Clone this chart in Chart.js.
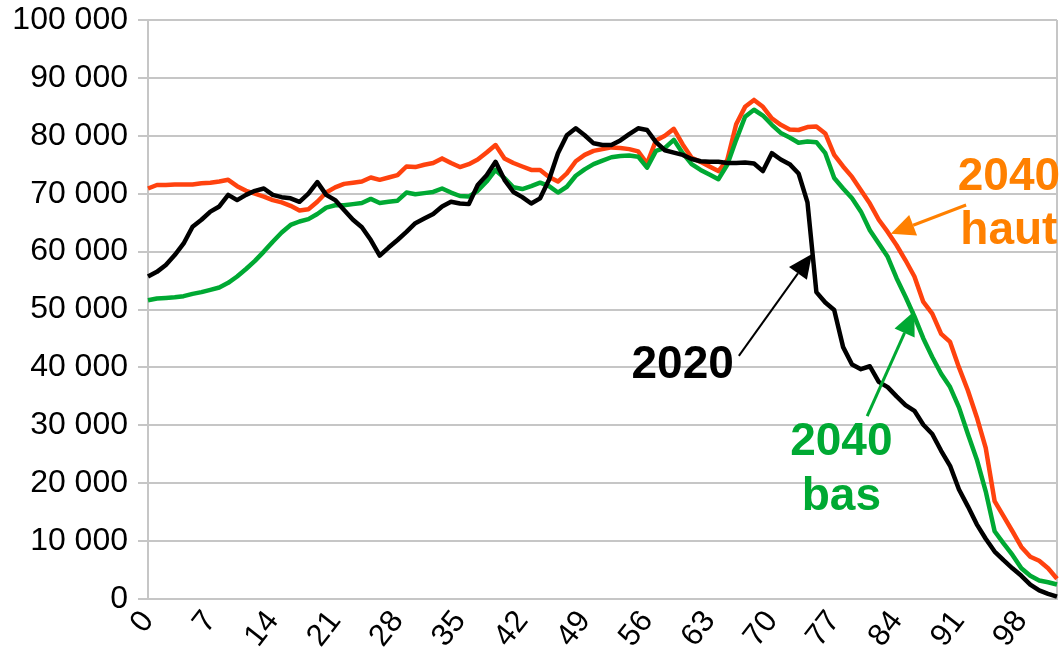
<!DOCTYPE html>
<html>
<head>
<meta charset="utf-8">
<script src="https://cdn.jsdelivr.net/npm/chart.js"></script>
<style>
  body { margin: 0; background: #fff; }
  #wrap { width: 1060px; height: 662px; }
</style>
</head>
<body>
<div id="wrap"><canvas id="chart" width="1060" height="662"></canvas></div>
<script>
// Ages (categories)
const ages = [
  0, 1, 2, 3, 4, 5, 6, 7, 8, 9, 10, 11, 12, 13, 14, 15, 16, 17, 18, 19,
  20, 21, 22, 23, 24, 25, 26, 27, 28, 29, 30, 31, 32, 33, 34, 35, 36, 37, 38, 39,
  40, 41, 42, 43, 44, 45, 46, 47, 48, 49, 50, 51, 52, 53, 54, 55, 56, 57, 58, 59,
  60, 61, 62, 63, 64, 65, 66, 67, 68, 69, 70, 71, 72, 73, 74, 75, 76, 77, 78, 79,
  80, 81, 82, 83, 84, 85, 86, 87, 88, 89, 90, 91, 92, 93, 94, 95, 96, 97, 98, 99,
  100, 101, 102
];

// Population by age
const pop2020 = [
  55700, 56500, 57700, 59400, 61400, 64300, 65500, 66900, 67800, 69800,
  68900, 69800, 70500, 70900, 69800, 69400, 69200, 68600, 70000, 72000,
  69800, 68900, 67200, 65500, 64200, 62000, 59300, 60700, 62000, 63400,
  64900, 65700, 66500, 67800, 68600, 68300, 68200, 71500, 73200, 75500,
  72400, 70300, 69400, 68300, 69200, 72400, 77000, 80100, 81300, 80100,
  78700, 78400, 78400, 79200, 80300, 81300, 81000, 78900, 77500, 77100,
  76700, 76000, 75600, 75500, 75500, 75300, 75300, 75400, 75200, 73900,
  77000, 75900, 75100, 73500, 68500, 53000, 51200, 49900, 43500, 40500,
  39700, 40200, 37500, 36600, 35000, 33500, 32500, 30100, 28500, 25600,
  23000, 18900, 16000, 12900, 10400, 8200, 6700, 5300, 4000, 2500,
  1500, 900, 400
];

const pop2040Bas = [
  51600, 51900, 52000, 52100, 52300, 52700, 53000, 53400, 53800, 54600,
  55700, 57000, 58400, 60000, 61700, 63300, 64600, 65200, 65600, 66500,
  67600, 68000, 68000, 68200, 68400, 69100, 68400, 68600, 68800, 70200,
  69900, 70100, 70300, 70900, 70200, 69600, 69500, 70500, 72100, 74100,
  72700, 71100, 70800, 71300, 71900, 71300, 70200, 71200, 73100, 74200,
  75100, 75700, 76300, 76500, 76600, 76400, 74500, 77400, 77900, 79300,
  77000, 75100, 74100, 73300, 72500, 75000, 79300, 83300, 84500, 83500,
  81900, 80500, 79700, 78800, 79000, 78900, 77000, 72700, 70900, 69200,
  66900, 63700, 61400, 59100, 55400, 52200, 48800, 45000, 41800, 38900,
  36600, 33100, 28500, 24100, 18600, 11700, 9600, 7600, 5300, 4000,
  3200, 2900, 2500
];

const pop2040Haut = [
  70900, 71500, 71500, 71600, 71600, 71600, 71800, 71900, 72100, 72400,
  71300, 70500, 70000, 69500, 68900, 68500, 67900, 67100, 67300, 68600,
  70200, 71100, 71700, 71900, 72100, 72800, 72400, 72800, 73200, 74700,
  74600, 75000, 75300, 76100, 75300, 74600, 75100, 75900, 77100, 78400,
  76100, 75300, 74700, 74100, 74100, 72900, 72100, 73500, 75600, 76700,
  77400, 77700, 78000, 77900, 77700, 77300, 75200, 79200, 80000, 81200,
  78500, 76200, 75500, 74700, 73900, 75800, 82000, 85000, 86200, 85000,
  83000, 81900, 81100, 81000, 81500, 81600, 80400, 76700, 74700, 72900,
  70600, 68300, 65500, 63400, 61100, 58500, 55700, 51300, 49300, 45800,
  44400, 40000, 36000, 31400, 26100, 16900, 14300, 11700, 9000, 7300,
  6600, 5300, 3500
];

// Y tick values
const yTicks = [0, 10000, 20000, 30000, 40000, 50000, 60000, 70000, 80000, 90000, 100000];

const FONT = "'Liberation Sans', Arial, sans-serif";
const GRID = '#c6c6c6';

function fmt(v) {
  return String(v).replace(/\B(?=(\d{3})+(?!\d))/g, ' ');
}

// Callouts: text anchored in data coordinates (age, value), arrow from -> to
const callouts = [
  { lines: ['2020'], color: '#000000', at: [60.0, 38200], lineGap: 0,
    from: [66.3, 42000], to: [74.5, 59600], arrowColor: '#000000', arrowWidth: 2 },
  { lines: ['2040', 'haut'], color: '#ff8000', at: [96.6, 70640], lineGap: 54,
    from: [91.8, 68050], to: [83.34, 63070], arrowColor: '#ff8000', arrowWidth: 3 },
  { lines: ['2040', 'bas'], color: '#00a933', at: [77.8, 24870], lineGap: 55,
    from: [80.7, 31600], to: [86.0, 49740], arrowColor: '#00a933', arrowWidth: 3 }
];

function drawArrow(ctx, x1, y1, x2, y2, color, width) {
  const ang = Math.atan2(y2 - y1, x2 - x1);
  const headLen = 24, headHalf = 11;
  const bx = x2 - headLen * Math.cos(ang), by = y2 - headLen * Math.sin(ang);
  ctx.save();
  ctx.strokeStyle = color;
  ctx.fillStyle = color;
  ctx.lineWidth = width;
  ctx.beginPath();
  ctx.moveTo(x1, y1);
  ctx.lineTo(bx, by);
  ctx.stroke();
  ctx.beginPath();
  ctx.moveTo(x2, y2);
  ctx.lineTo(bx + headHalf * Math.sin(ang), by - headHalf * Math.cos(ang));
  ctx.lineTo(bx - headHalf * Math.sin(ang), by + headHalf * Math.cos(ang));
  ctx.closePath();
  ctx.fill();
  ctx.restore();
}

const calloutPlugin = {
  id: 'callouts',
  afterDatasetsDraw(chart) {
    const { ctx, scales: { x, y } } = chart;
    callouts.forEach(c => {
      drawArrow(ctx,
        x.getPixelForValue(c.from[0]), y.getPixelForValue(c.from[1]),
        x.getPixelForValue(c.to[0]), y.getPixelForValue(c.to[1]),
        c.arrowColor, c.arrowWidth);
      ctx.save();
      ctx.fillStyle = c.color;
      ctx.font = 'bold 46px ' + FONT;
      ctx.textAlign = 'center';
      ctx.textBaseline = 'alphabetic';
      const tx = x.getPixelForValue(c.at[0]);
      const ty = y.getPixelForValue(c.at[1]);
      c.lines.forEach((t, i) => ctx.fillText(t, tx, ty + i * c.lineGap));
      ctx.restore();
    });
  }
};

const ctx = document.getElementById('chart').getContext('2d');
new Chart(ctx, {
  type: 'line',
  data: {
    labels: ages,
    datasets: [
      { label: '2020', data: pop2020, borderColor: '#000000' },
      { label: '2040 bas', data: pop2040Bas, borderColor: '#00a933' },
      { label: '2040 haut', data: pop2040Haut, borderColor: '#ff420e' }
    ]
  },
  options: {
    responsive: false,
    animation: false,
    devicePixelRatio: 1,
    layout: { padding: { top: 20, right: 3, left: 0, bottom: 0 } },
    elements: {
      line: { borderWidth: 4.5, tension: 0, borderJoinStyle: 'round' },
      point: { radius: 0 }
    },
    plugins: {
      legend: { display: false },
      tooltip: { enabled: false }
    },
    scales: {
      x: {
        type: 'category',
        afterFit: s => {
          s.height = 63;
          s.paddingLeft = 0;
          s.paddingRight = 0;
        },
        grid: {
          drawTicks: false,
          color: c => (c.index === ages.length - 1 ? GRID : 'transparent'),
          lineWidth: 2
        },
        border: { color: GRID, width: 2 },
        ticks: {
          autoSkip: false,
          minRotation: 52,
          maxRotation: 52,
          padding: 5,
          color: '#000',
          font: { family: FONT, size: 31 },
          callback: (val, i) => (i % 7 === 0 ? String(ages[i]) : '')
        }
      },
      y: {
        min: yTicks[0],
        max: yTicks[yTicks.length - 1],
        afterFit: s => {
          s.width = 148;
          s.paddingTop = 0;
          s.paddingBottom = 0;
        },
        afterBuildTicks: s => { s.ticks = yTicks.map(v => ({ value: v })); },
        grid: { color: GRID, lineWidth: 2, tickLength: 10 },
        border: { color: GRID, width: 2 },
        ticks: {
          padding: 10,
          color: '#000',
          font: { family: FONT, size: 32 },
          callback: v => fmt(v)
        }
      }
    }
  },
  plugins: [calloutPlugin]
});
</script>
</body>
</html>
